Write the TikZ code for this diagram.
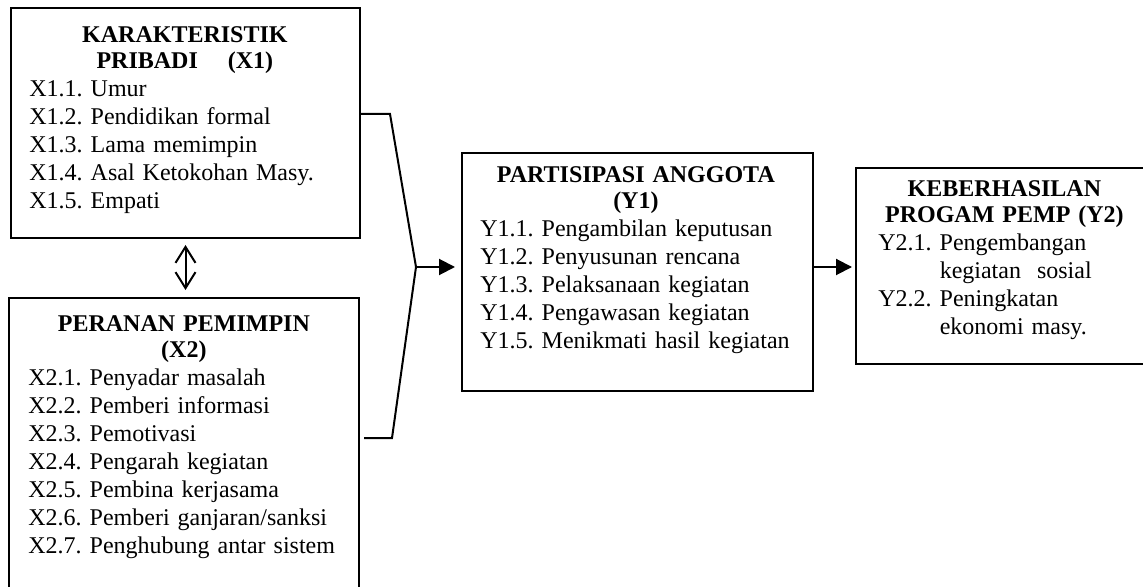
\documentclass[tikz,border=0pt]{standalone}
\usepackage{fontspec}
\setmainfont{Liberation Serif}
\frenchspacing
\usetikzlibrary{arrows.meta, positioning, calc}
\tikzset{
    varbox/.style={rectangle, draw=black, line width=1pt, anchor=north west, inner sep=0pt},
    vartext/.style={anchor=base west, inner sep=0pt, text width=155.5pt, align=left, font=\fontsize{12}{14}\selectfont},
    link/.style={line width=1pt, black},
    arrow/.style={line width=1pt, -{Triangle[length=8pt,width=8pt]}},
    dblarrow/.style={line width=1pt, {Straight Barb[length=8pt,width=10pt]}-{Straight Barb[length=8pt,width=10pt]}},
}

\begin{document}
\begin{tikzpicture}[x=0.5pt,y=-0.5pt]
\useasboundingbox (0,0) rectangle (1143,587);

% Left column - X1 and X2
\node[varbox,minimum width=174.5pt,minimum height=115pt] (x1) at (10,7) {};
\node[vartext] (x1text) at ([shift={(19,36)}]x1.north west) {{\bfseries\centering KARAKTERISTIK\\[-1pt]PRIBADI\hspace{11pt} (X1)\par}X1.1. Umur\\X1.2. Pendidikan formal\\X1.3. Lama memimpin\\X1.4. Asal Ketokohan Masy.\\X1.5. Empati};

\node[varbox,minimum width=175pt,minimum height=165pt] (x2) at (8,297) {};
\node[vartext] (x2text) at ([shift={(20,34)}]x2.north west) {{\bfseries\centering PERANAN PEMIMPIN\\[-1pt](X2)\par}X2.1. Penyadar masalah\\X2.2. Pemberi informasi\\X2.3. Pemotivasi\\X2.4. Pengarah kegiatan\\X2.5. Pembina kerjasama\\X2.6. Pemberi ganjaran/sanksi\\X2.7. Penghubung antar sistem};

% Middle column - Y1
\node[varbox,minimum width=175.5pt,minimum height=119pt] (y1) at (461,152) {};
\node[vartext] (y1text) at ([shift={(19,31)}]y1.north west) {{\bfseries\centering PARTISIPASI ANGGOTA\\[-1pt](Y1)\par}Y1.1. Pengambilan keputusan\\Y1.2. Penyusunan rencana\\Y1.3. Pelaksanaan kegiatan\\Y1.4. Pengawasan kegiatan\\Y1.5. Menikmati hasil kegiatan};

% Right column - Y2
\node[varbox,minimum width=160pt,minimum height=98pt] (y2) at (855,167) {};
\node[vartext,text width=126pt] (y2text) at ([shift={(23,30)}]y2.north west) {{\bfseries\centering KEBERHASILAN\\[-1pt]PROGAM PEMP (Y2)\par}Y2.1. Pengembangan\\\hphantom{Y2.1. }kegiatan\ \ sosial\\Y2.2. Peningkatan\\\hphantom{Y2.2. }ekonomi masy.};

% Connectors
\coordinate (merge) at (416,267);
\draw[link] ([yshift=4.5pt]x1.east) -- ++(29,0) -- (merge) -- ([shift={(32,141)}]x2.north east) -- ([shift={(4,141)}]x2.north east);
\draw[arrow,shorten >=3pt] (merge) -- (merge -| y1.west);
\draw[arrow,shorten >=1.5pt] (y1.east |- merge) -- (y2.west |- merge);
\draw[dblarrow,shorten <=3pt,shorten >=3.5pt] (x1.south) -- (x1.south |- x2.north);
\end{tikzpicture}
\end{document}
